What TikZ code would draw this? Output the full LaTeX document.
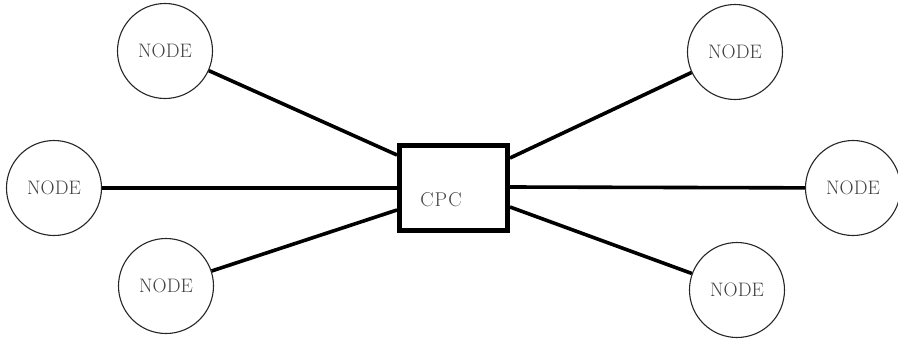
\documentclass[tikz,border=0pt]{standalone}
\usetikzlibrary{calc}
\begin{document}
\begin{tikzpicture}[x=1pt,y=-1pt,
  nodecirc/.style={draw=black!85,circle,line width=1.1pt,minimum size=95pt,inner sep=0pt,
    font=\fontsize{19.5}{22}\selectfont,text=black!75},
  cpcbox/.style={draw=black,line width=5pt,minimum width=108pt,minimum height=85pt,inner sep=0pt},
  link/.style={line width=3.6pt,black}]
\useasboundingbox (0,0) rectangle (898,343);
\node[cpcbox] (cpc) at (453.5,188) {};
\node[font=\fontsize{20}{22}\selectfont,text=black!75] (cpclabel) at (441,200) {C\kern1pt P\kern1pt C};
\node[nodecirc] (tl) at (165,51) {NODE};
\node[nodecirc] (ml) at (54,188) {NODE};
\node[nodecirc] (bl) at (166,286) {NODE};
\node[nodecirc] (tr) at (735,52) {NODE};
\node[nodecirc] (mr) at (853,188) {NODE};
\node[nodecirc] (br) at (737,290) {NODE};
\coordinate (ltl) at ($(cpc.west)+(0,-33)$);
\coordinate (lml) at ($(cpc.west)+(0,0)$);
\coordinate (lbl) at ($(cpc.west)+(0,22)$);
\coordinate (rtr) at ($(cpc.east)+(0,-30)$);
\coordinate (rmr) at ($(cpc.east)+(0,-1)$);
\coordinate (rbr) at ($(cpc.east)+(0,19)$);
\draw[link] (tl) -- (ltl);
\draw[link] (ml) -- (lml);
\draw[link] (bl) -- (lbl);
\draw[link] (tr) -- (rtr);
\draw[link] (mr) -- (rmr);
\draw[link] (br) -- (rbr);
\end{tikzpicture}
\end{document}
